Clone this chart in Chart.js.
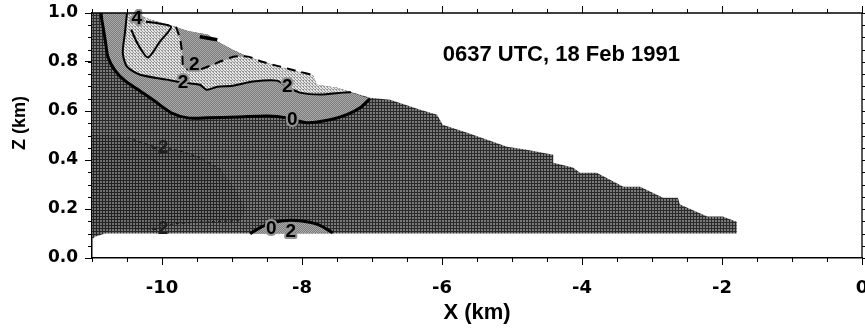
<!DOCTYPE html>
<html><head><meta charset="utf-8">
<script src="https://cdn.jsdelivr.net/npm/chart.js@4.4.1/dist/chart.umd.min.js"></script>
<style>html,body{margin:0;padding:0;background:#fff;overflow:hidden}canvas{display:block}</style>
</head><body>
<canvas id="c" width="865" height="329"></canvas>
<script>
// ---- axis ticks ----
const xTicks = [-10, -8, -6, -4, -2, 0];
const yTicks = [0.0, 0.2, 0.4, 0.6, 0.8, 1.0];

// ---- data domain: upper edge (top of data), left -> right ----
const topEdgeX = [-11, -10.39, -10.17, -9.86, -9.63, -9.34, -9.2, -8.99, -8.74, -8.5, -8.21, -7.84, -7.79, -7.5, -7.03, -6.74, -6.31, -6.07, -5.99, -5.64, -5.07, -4.79, -4.41, -4.41, -4.13, -4.03, -3.79, -3.41, -3.17, -2.84, -2.63, -2.6, -2.21, -1.99, -1.79, -1.79];
const topEdgeZ = [1.0, 1.0, 0.973, 0.948, 0.927, 0.911, 0.883, 0.85, 0.817, 0.797, 0.768, 0.744, 0.707, 0.695, 0.654, 0.646, 0.605, 0.585, 0.544, 0.511, 0.454, 0.442, 0.421, 0.389, 0.369, 0.348, 0.348, 0.291, 0.291, 0.246, 0.246, 0.218, 0.169, 0.169, 0.148, 0.1];
// lower edge, right -> left
const bottomEdgeX = [-10.81, -10.96, -11];
const bottomEdgeZ = [0.1, 0.087, 0.075];

// ---- contours ----
const zeroX = [-10.87, -10.86, -10.84, -10.81, -10.77, -10.67, -10.53, -10.36, -10.13, -9.87, -9.63, -9.36, -8.91, -8.49, -8.21, -7.93, -7.6, -7.36, -7.17, -7.03];
const zeroZ = [1.0, 0.973, 0.94, 0.887, 0.818, 0.765, 0.724, 0.691, 0.646, 0.593, 0.572, 0.572, 0.576, 0.58, 0.572, 0.552, 0.564, 0.585, 0.613, 0.65];
const twoX = [-10.5, -10.53, -10.56, -10.5, -10.31, -9.93, -9.7, -9.46, -9.36, -9.21, -8.99, -8.7, -8.36, -8.21, -8.03, -7.74, -7.41, -7.3];
const twoZ = [1.0, 0.918, 0.836, 0.781, 0.748, 0.728, 0.716, 0.707, 0.687, 0.699, 0.703, 0.72, 0.724, 0.699, 0.675, 0.667, 0.675, 0.677];
const twoUpperX = [-9.8, -9.74, -9.71, -9.69, -9.53, -9.31, -9.14, -8.96, -8.77, -8.57, -8.31, -8.03, -7.86];
const twoUpperZ = [0.944, 0.891, 0.83, 0.777, 0.765, 0.785, 0.805, 0.822, 0.822, 0.801, 0.781, 0.76, 0.748];
const fourX = [-10.44, -10.34, -10.2, -10.03, -9.87, -10.1, -10.23];
const fourZ = [0.932, 0.87, 0.818, 0.883, 0.944, 0.96, 0.964];
const zeroTopX = [-9.46, -9.21];
const zeroTopZ = [0.903, 0.891];
const zeroLowX = [-8.74, -8.63, -8.5, -8.27, -8.03, -7.77, -7.56];
const zeroLowZ = [0.099, 0.119, 0.136, 0.152, 0.152, 0.136, 0.103];
const minusTwoX = [-10.49, -10.1, -9.81, -9.46, -9.16];
const minusTwoZ = [0.491, 0.454, 0.442, 0.409, 0.36];
const minusTwoLowX = [-10.39, -10.1, -9.81, -9.31, -8.89];
const minusTwoLowZ = [0.12, 0.12, 0.14, 0.148, 0.152];
// region below -2 (lower left)
const coldX = [-11, -10.75, -10.49, -10.1, -9.81, -9.46, -9.16, -8.95, -8.8, -8.89, -9.31, -9.81, -10.1, -10.39, -10.7, -11];
const coldZ = [0.5, 0.5, 0.491, 0.454, 0.442, 0.409, 0.36, 0.28, 0.2, 0.152, 0.148, 0.14, 0.12, 0.12, 0.115, 0.09];

// ---- contour labels ----
const labelText = ['4', '2', '2', '2', '0', '-2', '-2', '0', '2'];
const labelX = [-10.36, -9.7, -8.21, -9.54, -8.14, -10.03, -10.03, -8.44, -8.16];
const labelZ = [0.977, 0.716, 0.699, 0.789, 0.564, 0.45, 0.12, 0.12, 0.107];

const titleText = '0637 UTC, 18 Feb 1991';

// ---- helpers building the polygons ----
function pts(xs, zs) { return xs.map((x, i) => ({x: x, y: zs[i]})); }
function edgeBetween(hi, lo) {
  const out = [];
  for (let i = topEdgeX.length - 1; i >= 0; i--) {
    const x = topEdgeX[i];
    if (x < hi && x > lo) out.push({x: x, y: topEdgeZ[i]});
  }
  return out;
}
const domainPoly = pts(topEdgeX, topEdgeZ).concat(pts(bottomEdgeX, bottomEdgeZ));
const mediumPoly = pts(zeroX, zeroZ).concat(edgeBetween(zeroX[zeroX.length - 1], zeroX[0]));
const lightPoly = pts(twoX, twoZ)
  .concat(edgeBetween(twoX[twoX.length - 1], twoUpperX[twoUpperX.length - 1]))
  .concat(pts(twoUpperX, twoUpperZ).reverse())
  .concat(edgeBetween(twoUpperX[0], twoX[0]));

// ---- halftone-like fill patterns ----
function makePattern(size, bg, fg, cells) {
  const cv = document.createElement('canvas');
  cv.width = size; cv.height = size;
  const g = cv.getContext('2d');
  g.fillStyle = bg; g.fillRect(0, 0, size, size);
  g.fillStyle = fg;
  cells.forEach(c => g.fillRect(c[0], c[1], c[2], c[3]));
  return g.createPattern(cv, 'repeat');
}
const P_DARK = makePattern(3, '#2a2a2a', '#7a7a7a', [[1, 1, 2, 2]]);
const P_COLD = makePattern(3, '#222222', '#707070', [[1, 1, 2, 2]]);
const P_MED = makePattern(2, '#7a7a7a', '#ababab', [[0, 0, 1, 1], [1, 1, 1, 1]]);
const P_LIGHT = makePattern(3, '#e6e6e6', '#959595', [[0, 0, 1, 1], [1, 1, 1, 1], [2, 2, 1, 1], [0, 2, 1, 1]]);
const C_MED = '#939393';

function area(data, fillStyle) {
  return {data: data, polyFill: fillStyle, showLine: false, pointRadius: 0, borderWidth: 0};
}
function line(data, width, dash, color) {
  return {data: data, showLine: true, pointRadius: 0, borderColor: color || '#000',
    borderWidth: width, borderDash: dash || [], tension: 0.25, fill: false};
}

const datasets = [
  area(domainPoly, P_DARK),
  area(pts(coldX, coldZ), P_COLD),
  area(mediumPoly, P_MED),
  area(pts(zeroLowX, zeroLowZ), P_MED),
  area(lightPoly, P_LIGHT),
  line(pts(zeroX, zeroZ), 3),
  line(pts(twoX, twoZ), 2),
  line(pts(twoUpperX, twoUpperZ), 2, [9, 6]),
  line(pts(fourX, fourZ), 2),
  line(pts(zeroTopX, zeroTopZ), 3.5),
  line(pts(zeroLowX, zeroLowZ), 3),
  line(pts(minusTwoX, minusTwoZ), 1.2, [3, 3], '#1c1c1c'),
  line(pts(minusTwoLowX, minusTwoLowZ), 1.2, [3, 3], '#1c1c1c')
];

const fillPlugin = {
  id: 'polyFill',
  beforeDatasetsDraw(chart) {
    const ctx = chart.ctx, a = chart.chartArea;
    ctx.save();
    ctx.beginPath(); ctx.rect(a.left, a.top, a.right - a.left, a.bottom - a.top); ctx.clip();
    chart.data.datasets.forEach((ds, i) => {
      if (!ds.polyFill) return;
      const meta = chart.getDatasetMeta(i);
      ctx.beginPath();
      meta.data.forEach((p, j) => { if (j === 0) ctx.moveTo(p.x, p.y); else ctx.lineTo(p.x, p.y); });
      ctx.closePath();
      ctx.fillStyle = ds.polyFill;
      ctx.fill();
    });
    ctx.restore();
  }
};

const decoPlugin = {
  id: 'deco',
  afterDraw(chart) {
    const ctx = chart.ctx, a = chart.chartArea, xs = chart.scales.x, ys = chart.scales.y;
    ctx.save();
    // contour labels
    ctx.font = 'bold 19px "Liberation Sans", Arial, sans-serif';
    ctx.textAlign = 'center'; ctx.textBaseline = 'middle';
    labelText.forEach((t, i) => {
      const px = xs.getPixelForValue(labelX[i]), py = ys.getPixelForValue(labelZ[i]);
      if (t.indexOf('-') < 0) {
        ctx.lineWidth = 4; ctx.strokeStyle = C_MED; ctx.lineJoin = 'round';
        ctx.strokeText(t, px, py);
        ctx.fillStyle = '#000';
      } else {
        ctx.fillStyle = '#1e1e1e';
      }
      ctx.fillText(t, px, py);
    });
    // in-plot title
    ctx.font = 'bold 22px "Liberation Sans", Arial, sans-serif';
    ctx.textAlign = 'left'; ctx.fillStyle = '#000';
    ctx.fillText(titleText, xs.getPixelForValue(-5.99), ys.getPixelForValue(0.83));
    // frame top/right
    ctx.strokeStyle = '#000'; ctx.lineWidth = 1.3;
    ctx.beginPath();
    ctx.moveTo(a.left, a.top); ctx.lineTo(a.right, a.top); ctx.lineTo(a.right, a.bottom);
    ctx.stroke();
    // minor / mirrored ticks
    ctx.lineWidth = 1;
    ctx.beginPath();
    for (let k = 0; k <= 22; k++) {
      const v = -11 + k * 0.5;
      const p = Math.round(xs.getPixelForValue(v)) + 0.5;
      const major = (k % 4 === 2);
      const len = major ? 7 : 4;
      ctx.moveTo(p, a.bottom); ctx.lineTo(p, a.bottom + 4);
      ctx.moveTo(p, a.top); ctx.lineTo(p, a.top - len);
    }
    for (let k = 0; k <= 20; k++) {
      const v = k * 0.05;
      const p = Math.round(ys.getPixelForValue(v)) + 0.5;
      ctx.moveTo(a.left, p); ctx.lineTo(a.left - 4, p);
      ctx.moveTo(a.right, p); ctx.lineTo(a.right + 4, p);
    }
    ctx.stroke();
    // y axis title
    ctx.translate(20, 123);
    ctx.rotate(-Math.PI / 2);
    ctx.font = 'bold 18px "Liberation Sans Narrow", "Liberation Sans", Arial, sans-serif';
    ctx.textAlign = 'center'; ctx.textBaseline = 'middle';
    ctx.fillText('Z (km)', 0, 0);
    ctx.restore();
  }
};

new Chart(document.getElementById('c'), {
  type: 'scatter',
  data: {datasets: datasets},
  plugins: [fillPlugin, decoPlugin],
  options: {
    responsive: false, animation: false, devicePixelRatio: 1,
    layout: {padding: {top: 13, right: 3, left: 0, bottom: 0}},
    plugins: {legend: {display: false}, tooltip: {enabled: false}},
    scales: {
      x: {
        type: 'linear', min: -11, max: 0,
        afterBuildTicks: s => { s.ticks = xTicks.map(v => ({value: v})); },
        afterFit: s => { s.height = 71; s.paddingLeft = 0; s.paddingRight = 0; },
        grid: {drawOnChartArea: false, tickLength: 7, color: '#000', lineWidth: 1},
        border: {color: '#000', width: 1.5},
        ticks: {color: '#000', padding: 13, maxRotation: 0, autoSkip: false,
          font: {family: '"DejaVu Sans", sans-serif', weight: 'bold', size: 18},
          callback: v => String(v)},
        title: {display: true, text: 'X (km)', color: '#000', padding: {top: 0, bottom: 3},
          font: {family: '"Liberation Sans", Arial, sans-serif', weight: 'bold', size: 22}}
      },
      y: {
        type: 'linear', min: 0, max: 1.0,
        afterBuildTicks: s => { s.ticks = yTicks.map(v => ({value: v})); },
        afterFit: s => { s.width = 92; s.paddingTop = 0; s.paddingBottom = 0; },
        grid: {drawOnChartArea: false, tickLength: 7, color: '#000', lineWidth: 1},
        border: {color: '#000', width: 1.5},
        ticks: {color: '#000', padding: 7, autoSkip: false,
          font: {family: '"DejaVu Sans", sans-serif', weight: 'bold', size: 17},
          callback: v => Number(v).toFixed(1)}
      }
    }
  }
});
</script>
</body></html>
